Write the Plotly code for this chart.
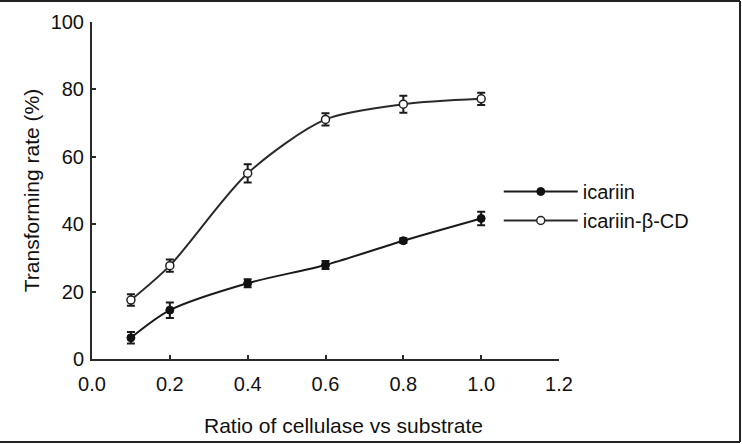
import plotly.graph_objects as go

ratio = [0.1, 0.2, 0.4, 0.6, 0.8, 1.0]
icariin = [6.3, 14.5, 22.5, 27.9, 35.1, 41.7]
icariin_err = [1.7, 2.3, 1.2, 1.2, 0.7, 2.0]
icariin_cd = [17.5, 27.7, 55.1, 71.1, 75.6, 77.2]
icariin_cd_err = [1.7, 1.8, 2.7, 1.8, 2.5, 1.8]

x_ticks = [0.0, 0.2, 0.4, 0.6, 0.8, 1.0, 1.2]
x_tick_labels = ["0.0", "0.2", "0.4", "0.6", "0.8", "1.0", "1.2"]
y_ticks = [0, 20, 40, 60, 80, 100]
x_title = "Ratio of cellulase vs substrate"
y_title = "Transforming rate (%)"

fig = go.Figure()
fig.add_trace(go.Scatter(
    x=ratio, y=icariin, name="icariin", mode="lines+markers",
    line=dict(color="#1a1a1a", width=2, shape="spline", smoothing=0.8),
    marker=dict(symbol="circle", size=8, color="#111111", line=dict(color="#111111", width=1)),
    error_y=dict(type="data", array=icariin_err, visible=True, color="#1a1a1a", thickness=2, width=4),
))
fig.add_trace(go.Scatter(
    x=ratio, y=icariin_cd, name="icariin-β-CD", mode="lines+markers",
    line=dict(color="#2a2a2a", width=2, shape="spline", smoothing=0.8),
    marker=dict(symbol="circle", size=8, color="white", line=dict(color="#222222", width=1.5)),
    error_y=dict(type="data", array=icariin_cd_err, visible=True, color="#1a1a1a", thickness=2, width=4),
))

tick_font = dict(family="Liberation Sans, Arial, sans-serif", size=20, color="#111111")
title_font = dict(family="Liberation Sans, Arial, sans-serif", size=21, color="#111111")

fig.update_layout(
    width=742, height=444,
    margin=dict(l=92, r=183, t=22, b=85),
    paper_bgcolor="white", plot_bgcolor="white",
    font=tick_font,
    showlegend=True,
    legend=dict(x=0.871, y=0.454, xanchor="left", yanchor="middle",
                font=dict(family="Liberation Sans, Arial, sans-serif", size=20, color="#111111"),
                bgcolor="rgba(0,0,0,0)", itemwidth=74),
    xaxis=dict(range=[0, 1.2], tickvals=x_ticks, ticktext=x_tick_labels,
               showline=True, linecolor="#2a2a2a", linewidth=2, ticks="inside",
               tickcolor="#2a2a2a", ticklen=4, tickwidth=1.5, showgrid=False, zeroline=False,
               ticklabelstandoff=6, tickfont=tick_font),
    yaxis=dict(range=[0, 100], tickvals=y_ticks,
               showline=True, linecolor="#2a2a2a", linewidth=2, ticks="inside",
               tickcolor="#2a2a2a", ticklen=4, tickwidth=1.5, showgrid=False, zeroline=False,
               ticklabelstandoff=2,
               title=dict(text=y_title, font=title_font, standoff=5),
               tickfont=tick_font),
    annotations=[dict(text=x_title, xref="paper", yref="paper", x=0.5375, y=-0.196,
                      xanchor="center", yanchor="middle", showarrow=False, font=title_font)],
    shapes=[
        dict(type="line", xref="paper", yref="paper", x0=-0.2, x1=1.3876, y0=1.0623, y1=1.0623,
             line=dict(color="#222222", width=2)),
        dict(type="line", xref="paper", yref="paper", x0=1.3876, x1=1.3876, y0=1.0623, y1=-0.2463,
             line=dict(color="#222222", width=2)),
        dict(type="line", xref="paper", yref="paper", x0=-0.2, x1=1.3876, y0=-0.2463, y1=-0.2463,
             line=dict(color="#222222", width=2)),
    ],
)

fig.write_html("out.html", config={"displayModeBar": False},
               post_script="document.body.style.margin='0';")
